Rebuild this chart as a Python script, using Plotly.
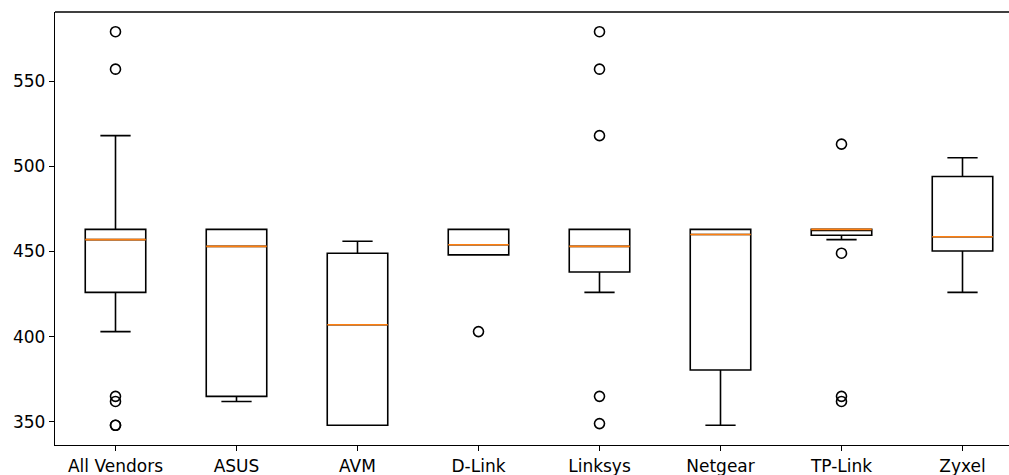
import plotly.graph_objects as go

categories = ["All Vendors", "ASUS", "AVM", "D-Link", "Linksys", "Netgear", "TP-Link", "Zyxel"]
q1 = [426, 365, 348, 448, 438, 380.5, 459.5, 450.3]
median = [457, 453, 407, 454, 453, 460, 463, 458.7]
q3 = [463, 463, 449, 463, 463, 463, 463, 494]
lower_whisker = [403, 362, 348, 448, 426, 348, 457, 426]
upper_whisker = [518, 463, 456, 463, 463, 463, 463, 505]
outliers = [
    [579, 557, 365, 362, 348, 348],
    [],
    [],
    [403],
    [579, 557, 518, 365, 349],
    [],
    [513, 449, 365, 362],
    [],
]

positions = list(range(1, len(categories) + 1))
BOX_W = 0.5

fig = go.Figure()
fig.add_trace(go.Box(
    x=positions, q1=q1, median=median, q3=q3,
    lowerfence=lower_whisker, upperfence=upper_whisker,
    width=BOX_W, whiskerwidth=0.5,
    line=dict(color="black", width=1.6),
    fillcolor="rgba(0,0,0,0)",
    showlegend=False, hoverinfo="skip",
))

# median lines (orange)
mx, my = [], []
for p, m in zip(positions, median):
    mx += [p - BOX_W / 2, p + BOX_W / 2, None]
    my += [m, m, None]
fig.add_trace(go.Scatter(x=mx, y=my, mode="lines",
                         line=dict(color="#ff7f0e", width=1.6),
                         showlegend=False, hoverinfo="skip"))

# outliers
ox, oy = [], []
for p, vals in zip(positions, outliers):
    for v in vals:
        ox.append(p)
        oy.append(v)
fig.add_trace(go.Scatter(x=ox, y=oy, mode="markers",
                         marker=dict(symbol="circle-open", size=10,
                                     color="black", line=dict(width=1.6)),
                         showlegend=False, hoverinfo="skip"))

W, H = 1009, 475
L, R, T, B = 55, 0, 12, 30
px_per_unit = 121.0
x_right = 0.5 + (W - L - R) / px_per_unit

fig.update_layout(
    width=W, height=H,
    margin=dict(l=L, r=R, t=T, b=B, pad=0),
    paper_bgcolor="white", plot_bgcolor="white",
    font=dict(family="DejaVu Sans", size=17, color="black"),
    xaxis=dict(range=[0.5, x_right], tickmode="array", tickvals=positions,
               ticktext=categories, showgrid=False, zeroline=False,
               showline=True, linecolor="black", linewidth=1.3,
               ticks="outside", ticklen=5, tickwidth=1.2, tickcolor="black"),
    yaxis=dict(range=[336.45, 590.55], tickmode="array",
               tickvals=[350, 400, 450, 500, 550],
               showgrid=False, zeroline=False,
               showline=True, linecolor="black", linewidth=1.3,
               ticks="outside", ticklen=5, tickwidth=1.2, tickcolor="black"),
    shapes=[dict(type="line", xref="paper", yref="paper", x0=0, x1=1, y0=1, y1=1,
                 line=dict(color="black", width=1.3))],
)

fig.write_html(
    "out.html",
    config={"displayModeBar": False},
    post_script="document.body.style.margin='0';document.body.style.padding='0';"
                "document.documentElement.style.overflow='hidden';",
)
